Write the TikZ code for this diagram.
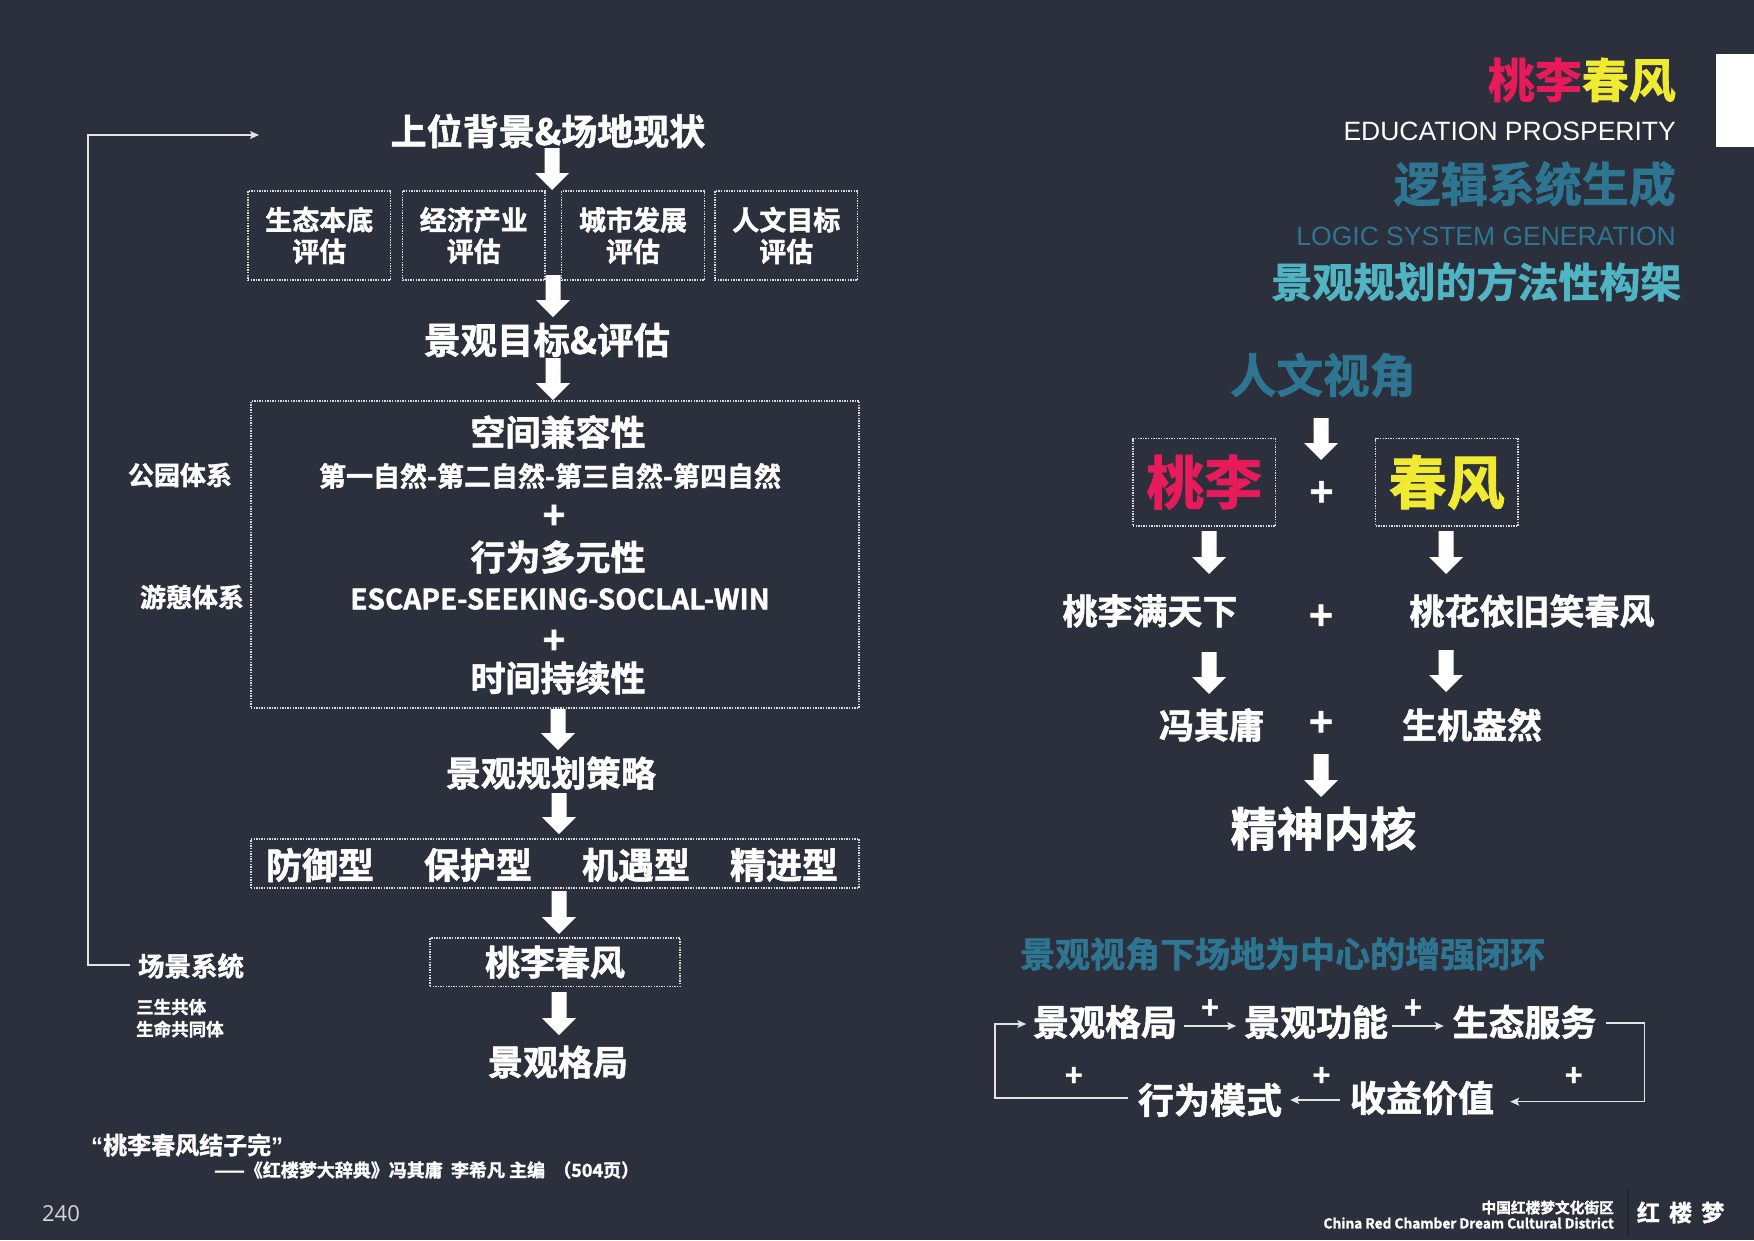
\documentclass[tikz,border=0pt]{standalone}
\usepackage{fontspec}
\setmainfont{Noto Sans CJK SC}[BoldFont={* Bold}, BoldFeatures={FakeBold=1.5}]
\newfontfamily\arialf{Liberation Sans}
\newfontfamily\qf{Liberation Sans}[BoldFont={* Bold}]
\newfontfamily\numf{Open Sans}
\usetikzlibrary{arrows.meta}
\definecolor{bg}{RGB}{44,47,60}
\definecolor{pinkc}{RGB}{232,27,90}
\definecolor{yelc}{RGB}{240,235,50}
\definecolor{tealc}{RGB}{46,117,145}
\definecolor{ltealc}{RGB}{80,180,195}
\definecolor{dotc}{RGB}{220,220,220}
\definecolor{linec}{RGB}{228,228,228}
\definecolor{pgc}{RGB}{215,215,215}
\begin{document}
\begin{tikzpicture}[x=1pt,y=-1pt,
 lbl/.style={text=white, inner sep=0pt},
 fs/.style={font=\bfseries\fontsize{#1}{#1}\selectfont},
 dbox/.style={draw=dotc, line width=1.3pt, dash pattern=on 1.4pt off 1.2pt, inner sep=0pt, text=white},
 ln/.style={draw=linec, line width=1.5pt},
 arrtip/.style={-{Stealth[length=9pt,width=8pt,inset=2pt]}},
 pics/darr/.style={code={\fill[white] (-7.5,0) -- (7.5,0) -- (7.5,#1-17) -- (17,#1-17) -- (0,#1) -- (-17,#1-17) -- (-7.5,#1-17) -- cycle;}}
]
\fill[bg] (0,0) rectangle (1754,1240);
\useasboundingbox (0,0) rectangle (1754,1240);

% ---------- title block ----------
\fill[white] (1716,54) rectangle (1754,147);
\node[lbl, fs=47, anchor=east] (t1) at (1676,80) {\textcolor{pinkc}{桃李}\textcolor{yelc}{春风}};
\node[lbl, anchor=east, font=\arialf\fontsize{26.5}{26.5}\selectfont] (t2) at (1676,131.7) {EDUCATION PROSPERITY};
\node[lbl, fs=47, text=tealc, anchor=east] (t3) at (1676,184) {逻辑系统生成};
\node[lbl, text=tealc, anchor=east, font=\arialf\fontsize{26.5}{26.5}\selectfont] (t4) at (1676,236.7) {LOGIC SYSTEM GENERATION};
\node[lbl, fs=41, text=ltealc, anchor=east] (t5) at (1681.6,281.7) {景观规划的方法性构架};

% ---------- left flow ----------
\node[lbl, fs=36] (n1) at (548,131) {上位背景\&场地现状};
\pic (a1) at (552,148) {darr=42};
\node[dbox, align=center, minimum width=142.5, minimum height=89, font=\bfseries\fontsize{27}{31.5}\selectfont] (b1) at (319.25,235.5) {生态本底\\评估};
\node[dbox, align=center, minimum width=142.5, minimum height=89, font=\bfseries\fontsize{27}{31.5}\selectfont] (b2) at (473.8,235.5) {经济产业\\评估};
\node[dbox, align=center, minimum width=142.5, minimum height=89, font=\bfseries\fontsize{27}{31.5}\selectfont] (b3) at (633,235.5) {城市发展\\评估};
\node[dbox, align=center, minimum width=142.5, minimum height=89, font=\bfseries\fontsize{27}{31.5}\selectfont] (b4) at (786.3,235.5) {人文目标\\评估};
\pic (a2) at (553,275) {darr=42};
\node[lbl, fs=36.5] (n2) at (547,340) {景观目标\&评估};
\pic (a3) at (553,358) {darr=42};
\node[dbox, minimum width=608, minimum height=307] (bigbox) at (555,554.5) {};
\node[lbl, fs=35] (s1) at (558,432) {空间兼容性};
\node[lbl, fs=27] (s2) at (550,476) {第一自然-第二自然-第三自然-第四自然};
\node[lbl, fs=38] (p1) at (554,517) {+};
\node[lbl, fs=35] (s3) at (558,557) {行为多元性};
\node[lbl, fs=28] (s4) at (560,599) {ESCAPE-SEEKING-SOCLAL-WIN};
\node[lbl, fs=38] (p2) at (554,642) {+};
\node[lbl, fs=35] (s5) at (558,678) {时间持续性};
\node[lbl, fs=26] (gy) at (180,475) {公园体系};
\node[lbl, fs=26] (yq) at (192,597) {游憩体系};
\pic (a4) at (558,709) {darr=41};
\node[lbl, fs=35] (n3) at (551,773) {景观规划策略};
\pic (a5) at (559,793) {darr=41};
\node[dbox, minimum width=608, minimum height=49] (strat) at (555,863.5) {};
\node[lbl, fs=36] (k1) at (320,865) {防御型};
\node[lbl, fs=36] (k2) at (478,865) {保护型};
\node[lbl, fs=36] (k3) at (636,865) {机遇型};
\node[lbl, fs=36] (k4) at (784,865) {精进型};
\pic (a6) at (559,891) {darr=43};
\node[dbox, fs=35, minimum width=250, minimum height=48.5] (n4) at (555,962.25) {桃李春风};
\pic (a7) at (559,992) {darr=43};
\node[lbl, fs=35] (n5) at (558,1062) {景观格局};

\node[lbl, fs=26.5] (scene) at (191,966) {场景系统};
\node[lbl, fs=17.5, anchor=west] (sg1) at (136,1007) {三生共体};
\node[lbl, fs=17.5, anchor=west] (sg2) at (136,1029) {生命共同体};
\coordinate (fbc) at (88,135);
\coordinate (fbt) at (259,135);
\draw[ln, arrtip] ([xshift=-7.4pt,yshift=1pt]scene.west) -| (fbc) -- (fbt);

\node[lbl, fs=24, anchor=west] (q1) at (91,1145) {{\qf\bfseries “}桃李春风结子完{\qf\bfseries ”}};
\node[lbl, fs=18, anchor=west] (q2) at (214,1170) {——《红楼梦大辞典》冯其庸\ \ 李希凡 主编\ \ （504页）};
\node[lbl, text=pgc, anchor=center, font=\numf\fontsize{22}{22}\selectfont] (pg) at (61,1214) {240};

% ---------- right flow ----------
\node[lbl, fs=46.5, text=tealc] (r0) at (1323,375) {人文视角};
\pic (ra1) at (1321,418) {darr=42};
\node[dbox, fs=58, text=pinkc, minimum width=142.5, minimum height=87.5] (tl) at (1204.25,482.25) {桃李};
\node[dbox, fs=58, text=yelc, minimum width=142.5, minimum height=87.5] (cf) at (1446.75,482.25) {春风};
\node[lbl, fs=40] (rp1) at (1321.5,494) {+};
\pic (ra2) at (1209,531) {darr=43};
\pic (ra3) at (1446,531) {darr=43};
\node[lbl, fs=35] (r1) at (1150,611) {桃李满天下};
\node[lbl, fs=40] (rp2) at (1321,617.5) {+};
\node[lbl, fs=35] (r2) at (1532,611) {桃花依旧笑春风};
\pic (ra4) at (1209,652) {darr=42};
\pic (ra5) at (1446,650) {darr=42};
\node[lbl, fs=35] (r3) at (1211.5,725) {冯其庸};
\node[lbl, fs=40] (rp3) at (1321,724) {+};
\node[lbl, fs=35] (r4) at (1472,725) {生机盎然};
\pic (ra6) at (1321,754) {darr=43};
\node[lbl, fs=46.5] (r5) at (1323.5,828.5) {精神内核};

% ---------- loop ----------
\node[lbl, fs=35, text=tealc] (lt) at (1282.6,954) {景观视角下场地为中心的增强闭环};
\node[lbl, fs=36] (g1) at (1105,1022) {景观格局};
\node[lbl, fs=36] (g2) at (1316,1022) {景观功能};
\node[lbl, fs=36] (g3) at (1524.5,1022) {生态服务};
\node[lbl, fs=36] (g4) at (1422,1098) {收益价值};
\node[lbl, fs=36] (g5) at (1210,1100) {行为模式};
\node[lbl, fs=30] (lp1) at (1210,1009) {+};
\node[lbl, fs=30] (lp2) at (1413,1009) {+};
\node[lbl, fs=30] (lp3) at (1573.8,1076.7) {+};
\node[lbl, fs=30] (lp4) at (1321.5,1076.7) {+};
\node[lbl, fs=30] (lp5) at (1073.75,1076.7) {+};
\draw[ln, arrtip, shorten <=6.6pt, shorten >=7.6pt] ([yshift=-4pt]g1.east) -- ([yshift=-4pt]g2.west);
\draw[ln, arrtip, shorten <=4pt, shorten >=8.5pt] ([yshift=-4pt]g2.east) -- ([yshift=-4pt]g3.west);
\draw[ln, arrtip] ([xshift=9pt,yshift=-1pt]g3.east) -- ++(38.6,0) |- ([xshift=16pt,yshift=-3.7pt]g4.east);
\draw[ln, arrtip, shorten <=10pt, shorten >=8pt] ([yshift=-2pt]g4.west) -- (g5.east);
\draw[ln, arrtip] ([xshift=-10pt,yshift=2pt]g5.west) -| ([xshift=-38pt,yshift=-2pt]g1.west) -- ([xshift=-6.6pt,yshift=-2pt]g1.west);

% ---------- footer ----------
\node[lbl, fs=14.7, anchor=east] (f1) at (1614,1207.5) {中国红楼梦文化街区};
\node[lbl, fs=13.7, anchor=east] (f2) at (1614,1223) {China Red Chamber Dream Cultural District};
\draw[black!85, line width=1.5pt] (1628,1190) -- (1628,1237);
\node[lbl, fs=23, anchor=west] (f3) at (1636.7,1212.5) {红\hspace{0.4em}楼\hspace{0.4em}梦};
\end{tikzpicture}
\end{document}
